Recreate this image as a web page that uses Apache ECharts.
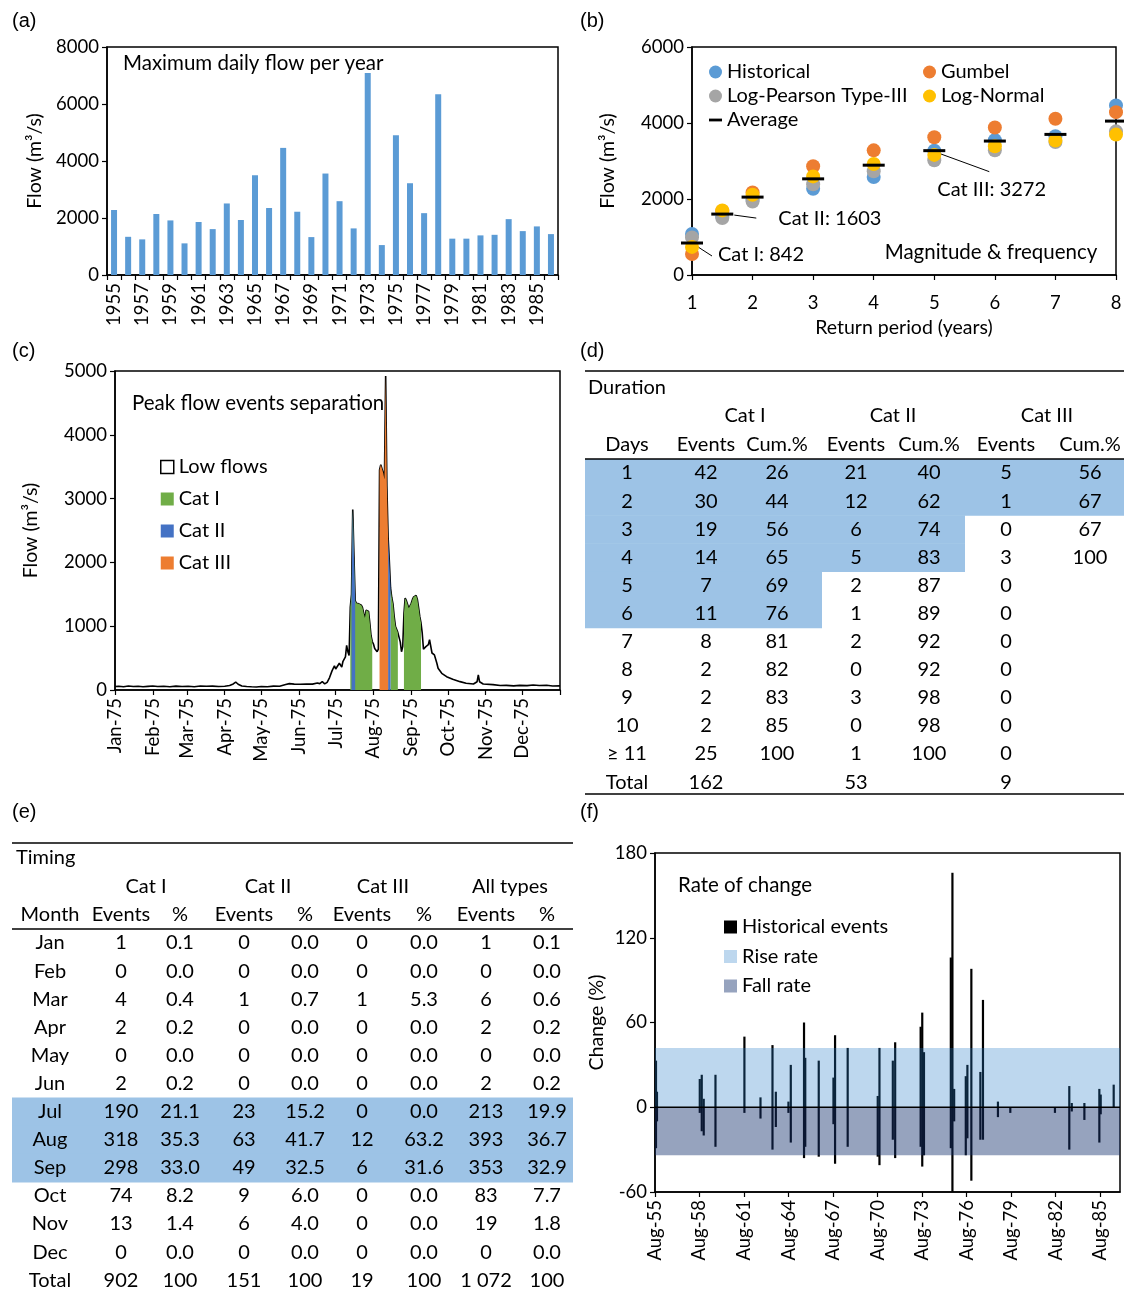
<!DOCTYPE html>
<html>
<head>
<meta charset="utf-8">
<title>Peak flow analysis</title>
<script src="https://cdn.jsdelivr.net/npm/echarts@6.0.0/dist/echarts.min.js"></script>
<style>
  html, body { margin: 0; padding: 0; background: #fff; }
  #fig { width: 1124px; height: 1290px; }
</style>
</head>
<body>
<div id="fig"></div>
<script>
// ---------- (a) maximum daily flow per year ----------
const years = ['1955','1956','1957','1958','1959','1960','1961','1962','1963','1964','1965','1966','1967','1968','1969','1970',
               '1971','1972','1973','1974','1975','1976','1977','1978','1979','1980','1981','1982','1983','1984','1985','1986'];
const maxDailyFlow = [2280,1340,1250,2140,1915,1110,1860,1610,2510,1930,3500,2350,4460,2220,1330,3560,
                      2590,1635,7090,1050,4900,3220,2170,6340,1275,1275,1390,1410,1960,1540,1705,1435];

// ---------- (b) magnitude & frequency ----------
const returnPeriods = [1, 1.5, 2, 3, 4, 5, 6, 7, 8];
const historical = [1080, 1530, 1980, 2270, 2580, 3270, 3550, 3650, 4460];
const gumbel     = [554, 1680, 2170, 2860, 3280, 3625, 3880, 4110, 4285];
const logPearson = [990, 1500, 1935, 2390, 2730, 3020, 3280, 3500, 3780];
const logNormal  = [740, 1700, 2110, 2595, 2920, 3160, 3390, 3540, 3695];
const average    = [842, 1603, 2050, 2530, 2890, 3272, 3525, 3700, 4050];
const averageCategory = ['Cat I', 'Cat II', null, null, null, 'Cat III', null, null, null];

// ---------- (c) daily flow in 1975 and event separation ----------
const flowDay = [0,3,7,11,15,19,23,27,31,35,40,45,50,55,60,65,70,75,80,85,90,94,97,99,101,104,108,112,116,120,125,130,135,140,143,147,
  152,157,162,166,168,170,172,174,176,178,180,181,182,184,185,186,187,188,189,190,191,192,193,194,195,196,197,198,199,200,201,202,203,204,
  205,206,207,208,209,210,211,212,213,214,215,216,217,218,219,220,221,222,223,224,225,226,227,228,229,230,231,232,233,234,235,236,237,238,
  239,240,241,242,243,244,245,246,247,248,249,250,251,252,253,254,255,256,257,258,259,260,261,262,263,264,265,268,272,277,283,288,294,297,
  298,299,302,310,316,321,327,332,338,343,348,354,359,365];
const flowValue = [55,60,52,62,55,58,50,57,63,55,58,52,60,54,58,50,62,58,60,55,58,70,95,125,90,62,55,50,47,55,52,60,58,85,100,92,
  90,95,92,110,100,130,95,120,195,300,380,330,300,420,430,360,450,440,520,700,600,540,1300,1500,2830,2100,1400,1360,1370,1350,1320,1330,1290,1200,
  1130,1250,1260,1230,1050,850,760,720,650,620,600,640,3450,3530,3500,3400,3300,4920,3200,2400,2020,1600,1450,1350,1150,1000,950,900,880,750,600,680,1200,1440,
  1400,1380,1280,1300,1360,1420,1460,1470,1480,1420,1290,1150,1050,890,640,660,680,700,710,790,820,580,570,550,530,420,340,262,209,168,131,105,94,130,
  236,130,94,84,70,73,65,73,68,78,70,75,62,65];
const catIWindows   = [[193, 211], [226, 232], [237, 251]];
const catIIWindows  = [[194, 197], [224, 226]];
const catIIIWindows = [[217, 224]];
const monthStartDay = [0, 31, 59, 90, 120, 151, 181, 212, 243, 273, 304, 334];
const monthLabels = ['Jan-75','Feb-75','Mar-75','Apr-75','May-75','Jun-75','Jul-75','Aug-75','Sep-75','Oct-75','Nov-75','Dec-75'];

// ---------- (d) duration table ----------
const durDays = ['1','2','3','4','5','6','7','8','9','10','\u2265 11'];
const durCatIEvents   = [42, 30, 19, 14, 7, 11, 8, 2, 2, 2, 25];
const durCatICum      = [26, 44, 56, 65, 69, 76, 81, 82, 83, 85, 100];
const durCatIIEvents  = [21, 12, 6, 5, 2, 1, 2, 0, 3, 0, 1];
const durCatIICum     = [40, 62, 74, 83, 87, 89, 92, 92, 98, 98, 100];
const durCatIIIEvents = [5, 1, 0, 3, 0, 0, 0, 0, 0, 0, 0];
const durCatIIICum    = [56, 67, 67, 100];
const durTotals = [162, 53, 9];
const durShadedRows = [6, 4, 2];   // leading rows shaded for Cat I, Cat II, Cat III

// ---------- (e) timing table ----------
const timingMonths = ['Jan','Feb','Mar','Apr','May','Jun','Jul','Aug','Sep','Oct','Nov','Dec'];
const timCatIEvents   = [1, 0, 4, 2, 0, 2, 190, 318, 298, 74, 13, 0];
const timCatIPct      = [0.1, 0.0, 0.4, 0.2, 0.0, 0.2, 21.1, 35.3, 33.0, 8.2, 1.4, 0.0];
const timCatIIEvents  = [0, 0, 1, 0, 0, 0, 23, 63, 49, 9, 6, 0];
const timCatIIPct     = [0.0, 0.0, 0.7, 0.0, 0.0, 0.0, 15.2, 41.7, 32.5, 6.0, 4.0, 0.0];
const timCatIIIEvents = [0, 0, 1, 0, 0, 0, 0, 12, 6, 0, 0, 0];
const timCatIIIPct    = [0.0, 0.0, 5.3, 0.0, 0.0, 0.0, 0.0, 63.2, 31.6, 0.0, 0.0, 0.0];
const timAllEvents    = [1, 0, 6, 2, 0, 2, 213, 393, 353, 83, 19, 0];
const timAllPct       = [0.1, 0.0, 0.6, 0.2, 0.0, 0.2, 19.9, 36.7, 32.9, 7.7, 1.8, 0.0];
const timTotals = [902, 151, 19, 1072];
const timShadedMonths = ['Jul', 'Aug', 'Sep'];

// ---------- (f) rate of change of historical events ----------
// event dates as months after Aug 1955
const eventMonth = [0.8,1.6,36.2,37.8,39.4,48.9,72.3,85.3,95.0,97.7,107.9,109.8,120.5,121.5,132.4,144.3,145.6,155.8,180.1,181.5,
  192.3,194.2,214.8,216.1,217.5,239.2,240.5,241.9,251.3,252.6,255.8,263.1,265.2,277.3,287.3,323.4,335.0,337.0,347.2,359.3,360.4,370.9];
const riseRate = [33,11,20,23,6,23,50,7,44,11,4,30,60,35,33,21,51,42,8,42,33,46,57,67,39,106,166,13,22,30,98,25,76,4,0,0,15,3,3,13,9,16];
const fallRate = [-29,-10,-4,-17,-20,-28,-4,-8,-30,-14,-4,-25,-36,-28,-35,-12,-40,-28,-35,-41,-23,-36,-28,-42,-34,-29,-60,-10,-34,-22,
  -52,-23,-23,-7,-4,-4,-30,-3,-9,-25,-5,0];
const riseRateLimit = 42;
const fallRateLimit = -34;
const monthNames = ['Jan','Feb','Mar','Apr','May','Jun','Jul','Aug','Sep','Oct','Nov','Dec'];
const axisStartMonth = 7;      // August
const axisStartYear = 55;
const axisSpanMonths = 376;

// ================= drawing =================
const FONT = 'Lato, "Liberation Sans", sans-serif';
const BLACK = '#000';

function merge(base, extra) {
  const out = Object.assign({}, base);
  for (const k in extra) {
    const v = extra[k];
    if (v && typeof v === 'object' && !Array.isArray(v) && base[k] && typeof base[k] === 'object') {
      out[k] = Object.assign({}, base[k], v);
    } else {
      out[k] = v;
    }
  }
  return out;
}

const plainNumber = v => String(v);

const axisBase = {
  axisLine: { show: true, onZero: false, lineStyle: { color: BLACK, width: 1.5 } },
  axisTick: { show: true, length: 5, inside: false, lineStyle: { color: BLACK, width: 1.2 } },
  axisLabel: { color: BLACK, fontSize: 18.5, fontFamily: FONT, margin: 8, formatter: plainNumber },
  splitLine: { show: false },
  nameTextStyle: { color: BLACK, fontSize: 19.5, fontFamily: FONT },
  nameLocation: 'middle',
  nameMoveOverlap: false
};

const gridBase = { show: true, borderColor: BLACK, borderWidth: 1.5, backgroundColor: 'transparent',
                   containLabel: false, outerBoundsMode: 'none' };

// build the coloured event areas from the daily flow within each window
function windowSeries(windows) {
  const out = [];
  windows.forEach((w, k) => {
    if (k > 0) out.push([(windows[k - 1][1] + w[0]) / 2, null]);
    flowDay.forEach((d, i) => { if (d >= w[0] && d <= w[1]) out.push([d, flowValue[i]]); });
  });
  return out;
}
const flowPoints = flowDay.map((d, i) => [d, flowValue[i]]);

function monthAxisLabel(v) {
  const m = axisStartMonth + Math.round(v);
  const yy = axisStartYear + Math.floor(m / 12);
  return monthNames[m % 12] + '-' + String(yy % 100).padStart(2, '0');
}

const series = [
  // (a)
  { type: 'bar', xAxisIndex: 0, yAxisIndex: 0, data: maxDailyFlow, barWidth: 6,
    itemStyle: { color: '#5B9BD5' }, silent: true },
  // (b)
  { type: 'scatter', name: 'Historical', xAxisIndex: 1, yAxisIndex: 1, symbolSize: 14,
    data: returnPeriods.map((x, i) => [x, historical[i]]), itemStyle: { color: '#5B9BD5', opacity: 1 } },
  { type: 'scatter', name: 'Gumbel', xAxisIndex: 1, yAxisIndex: 1, symbolSize: 14,
    data: returnPeriods.map((x, i) => [x, gumbel[i]]), itemStyle: { color: '#ED7D31', opacity: 1 } },
  { type: 'scatter', name: 'Log-Pearson Type-III', xAxisIndex: 1, yAxisIndex: 1, symbolSize: 14,
    data: returnPeriods.map((x, i) => [x, logPearson[i]]), itemStyle: { color: '#A5A5A5', opacity: 1 } },
  { type: 'scatter', name: 'Log-Normal', xAxisIndex: 1, yAxisIndex: 1, symbolSize: 14,
    data: returnPeriods.map((x, i) => [x, logNormal[i]]), itemStyle: { color: '#FFC000', opacity: 1 } },
  { type: 'scatter', name: 'Average', xAxisIndex: 1, yAxisIndex: 1, symbol: 'rect', symbolSize: [22, 3], z: 5,
    itemStyle: { color: BLACK, opacity: 1 }, data: returnPeriods.map((x, i) => [x, average[i]]) },
  // (c)
  { type: 'line', name: 'Low flows', xAxisIndex: 2, yAxisIndex: 2, data: flowPoints, symbol: 'none', z: 2,
    lineStyle: { color: BLACK, width: 1.6 }, itemStyle: { color: BLACK } },
  { type: 'line', name: 'Cat I', xAxisIndex: 2, yAxisIndex: 2, data: windowSeries(catIWindows), symbol: 'none', z: 3,
    lineStyle: { width: 0 }, areaStyle: { color: '#70AD47', opacity: 1 }, itemStyle: { color: '#70AD47' } },
  { type: 'line', name: 'Cat II', xAxisIndex: 2, yAxisIndex: 2, data: windowSeries(catIIWindows), symbol: 'none', z: 4,
    lineStyle: { width: 0 }, areaStyle: { color: '#4472C4', opacity: 1 }, itemStyle: { color: '#4472C4' } },
  { type: 'line', name: 'Cat III', xAxisIndex: 2, yAxisIndex: 2, data: windowSeries(catIIIWindows), symbol: 'none', z: 5,
    lineStyle: { width: 0 }, areaStyle: { color: '#ED7D31', opacity: 1 }, itemStyle: { color: '#ED7D31' } },
  // (f)
  { type: 'bar', name: 'Historical events', xAxisIndex: 3, yAxisIndex: 3, barWidth: 2.2, barGap: '-100%', z: 2,
    data: eventMonth.map((m, i) => [m, riseRate[i]]), itemStyle: { color: BLACK } },
  { type: 'bar', name: 'Historical events', xAxisIndex: 3, yAxisIndex: 3, barWidth: 2.2, barGap: '-100%', z: 2,
    data: eventMonth.map((m, i) => [m, fallRate[i]]), itemStyle: { color: BLACK } },
  { type: 'line', name: 'Rise rate', xAxisIndex: 3, yAxisIndex: 3, symbol: 'none', z: 3, silent: true,
    data: [[0, riseRateLimit], [axisSpanMonths, riseRateLimit]], lineStyle: { width: 0 },
    areaStyle: { color: 'rgba(35,122,198,0.3)', opacity: 1 }, itemStyle: { color: '#BDD7EE' } },
  { type: 'line', name: 'Fall rate', xAxisIndex: 3, yAxisIndex: 3, symbol: 'none', z: 3, silent: true,
    data: [[0, fallRateLimit], [axisSpanMonths, fallRateLimit]], lineStyle: { width: 0 },
    areaStyle: { color: 'rgba(22,51,111,0.45)', opacity: 1 }, itemStyle: { color: '#96A3BE' } },
  { type: 'line', name: 'zero', xAxisIndex: 3, yAxisIndex: 3, symbol: 'none', z: 4, silent: true,
    data: [[0, 0], [axisSpanMonths, 0]], lineStyle: { color: BLACK, width: 1.5 } }
];

const legendText = { color: BLACK, fontSize: 20, fontFamily: FONT, lineHeight: 20 };
const legends = [
  { left: 704, top: 57, orient: 'vertical', itemGap: 4, itemWidth: 13, itemHeight: 13, textStyle: legendText, selectedMode: false,
    data: [{ name: 'Historical', icon: 'circle' }, { name: 'Log-Pearson Type-III', icon: 'circle' },
           { name: 'Average', icon: 'path://M0,0H14V3H0Z' }] },
  { left: 918, top: 57, orient: 'vertical', itemGap: 4, itemWidth: 13, itemHeight: 13, textStyle: legendText, selectedMode: false,
    data: [{ name: 'Gumbel', icon: 'circle' }, { name: 'Log-Normal', icon: 'circle' }] },
  { left: 155, top: 452, orient: 'vertical', itemGap: 12, itemWidth: 13, itemHeight: 13, textStyle: legendText, selectedMode: false,
    data: [{ name: 'Low flows', icon: 'rect', itemStyle: { color: '#fff', borderColor: BLACK, borderWidth: 1.5 } },
           { name: 'Cat I', icon: 'rect' }, { name: 'Cat II', icon: 'rect' }, { name: 'Cat III', icon: 'rect' }] },
  { left: 719, top: 912, orient: 'vertical', itemGap: 9.5, itemWidth: 13, itemHeight: 13, textStyle: legendText, selectedMode: false,
    data: [{ name: 'Historical events', icon: 'rect', itemStyle: { color: BLACK } },
           { name: 'Rise rate', icon: 'rect', itemStyle: { color: '#BDD7EE' } },
           { name: 'Fall rate', icon: 'rect', itemStyle: { color: '#96A3BE' } }] }
];

// ---------- free text, tables ----------
const graphics = [];
function addText(x, y, text, size, align, family) {
  graphics.push({ type: 'text', x: x, y: y, silent: true, z: 10,
    style: { text: String(text), fill: BLACK, font: (size || 19.5) + 'px ' + (family || FONT),
             textAlign: align || 'center', textVerticalAlign: 'middle', align: align || 'center', verticalAlign: 'middle' } });
}
function addRect(x, y, w, h, color) {
  graphics.push({ type: 'rect', silent: true, z: 1, shape: { x: x, y: y, width: w, height: h }, style: { fill: color } });
}
function addRule(x1, y1, x2, y2, width) {
  graphics.push({ type: 'line', silent: true, z: 2, shape: { x1: x1, y1: y1, x2: x2, y2: y2 },
                  style: { stroke: BLACK, lineWidth: width || 1.5 } });
}

const PANEL_FONT = '"Liberation Sans", Arial, sans-serif';
[['(a)', 12, 21], ['(b)', 580, 21], ['(c)', 12, 351], ['(d)', 580, 351], ['(e)', 12, 812], ['(f)', 580, 812]]
  .forEach(p => addText(p[1], p[2], p[0], 20, 'left', PANEL_FONT));

addText(123, 63, 'Maximum daily flow per year', 20.5, 'left');
addText(991, 252, 'Magnitude & frequency', 20.5, 'center');
addText(132, 403, 'Peak flow events separation', 20.5, 'left');
addText(678, 885, 'Rate of change', 20.5, 'left');

const SHADE = '#9DC3E6';
const ROW = 28.1;
const TABLE_SIZE = 20;

// (d) duration table
(function () {
  const x0 = 585, x1 = 1124;
  const colX = [627, 706, 777, 856, 929, 1006, 1090];
  const catX = [745, 893, 1047];
  const catRight = [822, 965, 1124];
  const rowY = i => 473 + i * ROW;
  addRule(x0, 371, x1, 371);
  addText(588, 388, 'Duration', TABLE_SIZE, 'left');
  ['Cat I', 'Cat II', 'Cat III'].forEach((c, k) => addText(catX[k], 416, c, TABLE_SIZE));
  ['Days', 'Events', 'Cum.%', 'Events', 'Cum.%', 'Events', 'Cum.%'].forEach((h, k) => addText(colX[k], 445, h, TABLE_SIZE));
  addRule(x0, 459, x1, 459);
  durDays.forEach((d, i) => {
    let last = -1;
    durShadedRows.forEach((n, c) => { if (i < n) last = c; });
    if (last >= 0) addRect(x0, rowY(i) - ROW / 2, catRight[last] - x0, ROW + 0.6, SHADE);
    const cells = [d, durCatIEvents[i], durCatICum[i], durCatIIEvents[i], durCatIICum[i], durCatIIIEvents[i],
                   i < durCatIIICum.length ? durCatIIICum[i] : ''];
    cells.forEach((v, k) => { if (v !== '') addText(colX[k], rowY(i), v, TABLE_SIZE); });
  });
  const ty = rowY(durDays.length);
  addText(colX[0], ty, 'Total', TABLE_SIZE);
  addText(colX[1], ty, durTotals[0], TABLE_SIZE);
  addText(colX[3], ty, durTotals[1], TABLE_SIZE);
  addText(colX[5], ty, durTotals[2], TABLE_SIZE);
  addRule(x0, 794, x1, 794);
})();

// (e) timing table
(function () {
  const x0 = 12, x1 = 573;
  const colX = [50, 121, 180, 244, 305, 362, 424, 486, 547];
  const catX = [146, 268, 383, 510];
  const rowY = i => 943 + i * ROW;
  const fmt = n => n >= 1000 ? String(n).replace(/\B(?=(\d{3})+(?!\d))/g, ' ') : String(n);
  addRule(x0, 843, x1, 843);
  addText(16, 858, 'Timing', TABLE_SIZE, 'left');
  ['Cat I', 'Cat II', 'Cat III', 'All types'].forEach((c, k) => addText(catX[k], 887, c, TABLE_SIZE));
  ['Month', 'Events', '%', 'Events', '%', 'Events', '%', 'Events', '%'].forEach((h, k) => addText(colX[k], 915, h, TABLE_SIZE));
  addRule(x0, 929, x1, 929);
  timingMonths.forEach((m, i) => {
    if (timShadedMonths.indexOf(m) >= 0) addRect(x0, rowY(i) - ROW / 2, x1 - x0, ROW + 0.6, SHADE);
    const cells = [m, timCatIEvents[i], timCatIPct[i].toFixed(1), timCatIIEvents[i], timCatIIPct[i].toFixed(1),
                   timCatIIIEvents[i], timCatIIIPct[i].toFixed(1), timAllEvents[i], timAllPct[i].toFixed(1)];
    cells.forEach((v, k) => addText(colX[k], rowY(i), v, TABLE_SIZE));
  });
  const ty = rowY(timingMonths.length);
  addText(colX[0], ty, 'Total', TABLE_SIZE);
  timTotals.forEach((t, k) => { addText(colX[1 + 2 * k], ty, fmt(t), TABLE_SIZE); addText(colX[2 + 2 * k], ty, '100', TABLE_SIZE); });
})();

const option = {
  animation: false,
  textStyle: { fontFamily: FONT },
  tooltip: { show: false },
  grid: [
    merge(gridBase, { left: 107, top: 47, width: 451, height: 228 }),
    merge(gridBase, { left: 692, top: 47, width: 424, height: 228 }),
    merge(gridBase, { left: 115, top: 371, width: 445, height: 319 }),
    merge(gridBase, { left: 655, top: 853, width: 465, height: 339 })
  ],
  xAxis: [
    merge(axisBase, { gridIndex: 0, type: 'category', data: years,
      axisTick: { interval: 0 }, axisLabel: { interval: 1, rotate: 90, formatter: null } }),
    merge(axisBase, { gridIndex: 1, type: 'value', min: 1, max: 8, interval: 1,
      axisLabel: { margin: 19 }, name: 'Return period (years)', nameGap: 43 }),
    merge(axisBase, { gridIndex: 2, type: 'value', min: 0, max: 365,
      axisTick: { customValues: monthStartDay.concat([365]) },
      axisLabel: { customValues: monthStartDay, rotate: 90, formatter: v => monthLabels[monthStartDay.indexOf(v)] } }),
    merge(axisBase, { gridIndex: 3, type: 'value', min: 0, max: axisSpanMonths, interval: 36,
      axisLabel: { rotate: 90, showMaxLabel: false, formatter: monthAxisLabel } })
  ],
  yAxis: [
    merge(axisBase, { gridIndex: 0, type: 'value', min: 0, max: 8000, interval: 2000, name: 'Flow (m\u00B3/s)', nameGap: 62 }),
    merge(axisBase, { gridIndex: 1, type: 'value', min: 0, max: 6000, interval: 2000, name: 'Flow (m\u00B3/s)', nameGap: 74 }),
    merge(axisBase, { gridIndex: 2, type: 'value', min: 0, max: 5000, interval: 1000, name: 'Flow (m\u00B3/s)', nameGap: 74 }),
    merge(axisBase, { gridIndex: 3, type: 'value', min: -60, max: 180, interval: 60, name: 'Change (%)', nameGap: 48 })
  ],
  legend: legends,
  series: series,
  graphic: { elements: graphics }
};

const chart = echarts.init(document.getElementById('fig'), null, { renderer: 'canvas' });
chart.setOption(option);

// threshold annotations: leader line from the average marker to its label
const leaderStyle = {
  'Cat I':   { from: [3, 2],  to: [20, 13], text: [26, 12] },
  'Cat II':  { from: [12, 1], to: [34, 4],  text: [56, 4] },
  'Cat III': { from: [3, 2],  to: [55, 21], text: [3, 39] }
};
returnPeriods.forEach((x, i) => {
  const cat = averageCategory[i];
  if (!cat) return;
  const p = chart.convertToPixel({ xAxisIndex: 1, yAxisIndex: 1 }, [x, average[i]]);
  const s = leaderStyle[cat];
  addRule(p[0] + s.from[0], p[1] + s.from[1], p[0] + s.to[0], p[1] + s.to[1], 1);
  addText(p[0] + s.text[0], p[1] + s.text[1], cat + ': ' + average[i], 20, 'left');
});
chart.setOption({ graphic: { elements: graphics } });
</script>
</body>
</html>
